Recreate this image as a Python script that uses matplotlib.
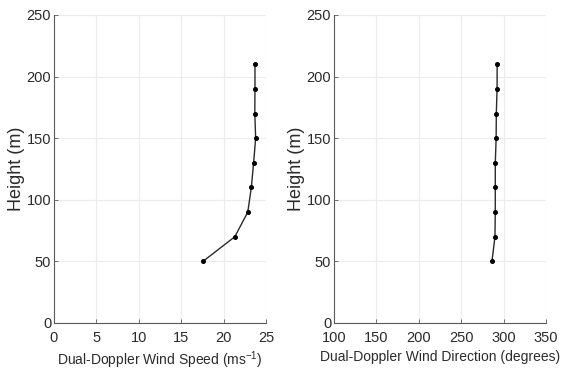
import matplotlib
matplotlib.use("Agg")
import matplotlib.pyplot as plt

heights = [50, 70, 90, 110, 130, 150, 170, 190, 210]
speed = [17.56, 21.32, 22.85, 23.27, 23.54, 23.78, 23.68, 23.70, 23.70]
direction = [286.3, 289.8, 290.2, 290.2, 290.2, 291.2, 291.4, 292.3, 292.4]

plt.rcParams['font.family'] = ['Liberation Sans', 'DejaVu Sans']
plt.rcParams['mathtext.default'] = 'regular'

fig = plt.figure(figsize=(5.65, 3.74), dpi=100)
W, H = 565, 374
ax1 = fig.add_axes([54/W, 1-323/H, 212/W, 308/H])
ax2 = fig.add_axes([334/W, 1-323/H, 212/W, 308/H])

txt = '#2b2b2b'
for ax, x, xlim, xt, xl in [
    (ax1, speed, (0, 25), [0, 5, 10, 15, 20, 25], 'Dual-Doppler Wind Speed (ms$^{-1}$)'),
    (ax2, direction, (100, 350), [100, 150, 200, 250, 300, 350], 'Dual-Doppler Wind Direction (degrees)'),
]:
    ax.plot(x, heights, color='#2a2a2a', lw=1.0, marker='o', ms=2.6, mfc='black', mec='black')
    ax.set_xlim(*xlim)
    ax.set_ylim(0, 250)
    ax.set_xticks(xt)
    ax.set_yticks([0, 50, 100, 150, 200, 250])
    ax.grid(True, color='#ececec', lw=0.8)
    ax.set_axisbelow(True)
    for s in ['top', 'right']:
        ax.spines[s].set_visible(False)
    for s in ['left', 'bottom']:
        ax.spines[s].set_color('#5a5a5a')
        ax.spines[s].set_linewidth(0.8)
    ax.tick_params(direction='in', length=3, width=0.6, color='#5a5a5a', labelsize=10.5, labelcolor=txt)
    ax.tick_params(axis='x', pad=6)
    ax.tick_params(axis='y', pad=2)
    ax.set_xlabel(xl, fontsize=10, color=txt, labelpad=3)
    ax.set_ylabel('Height (m)', fontsize=13, color=txt, labelpad=1)

fig.savefig('out.png', dpi=100)
